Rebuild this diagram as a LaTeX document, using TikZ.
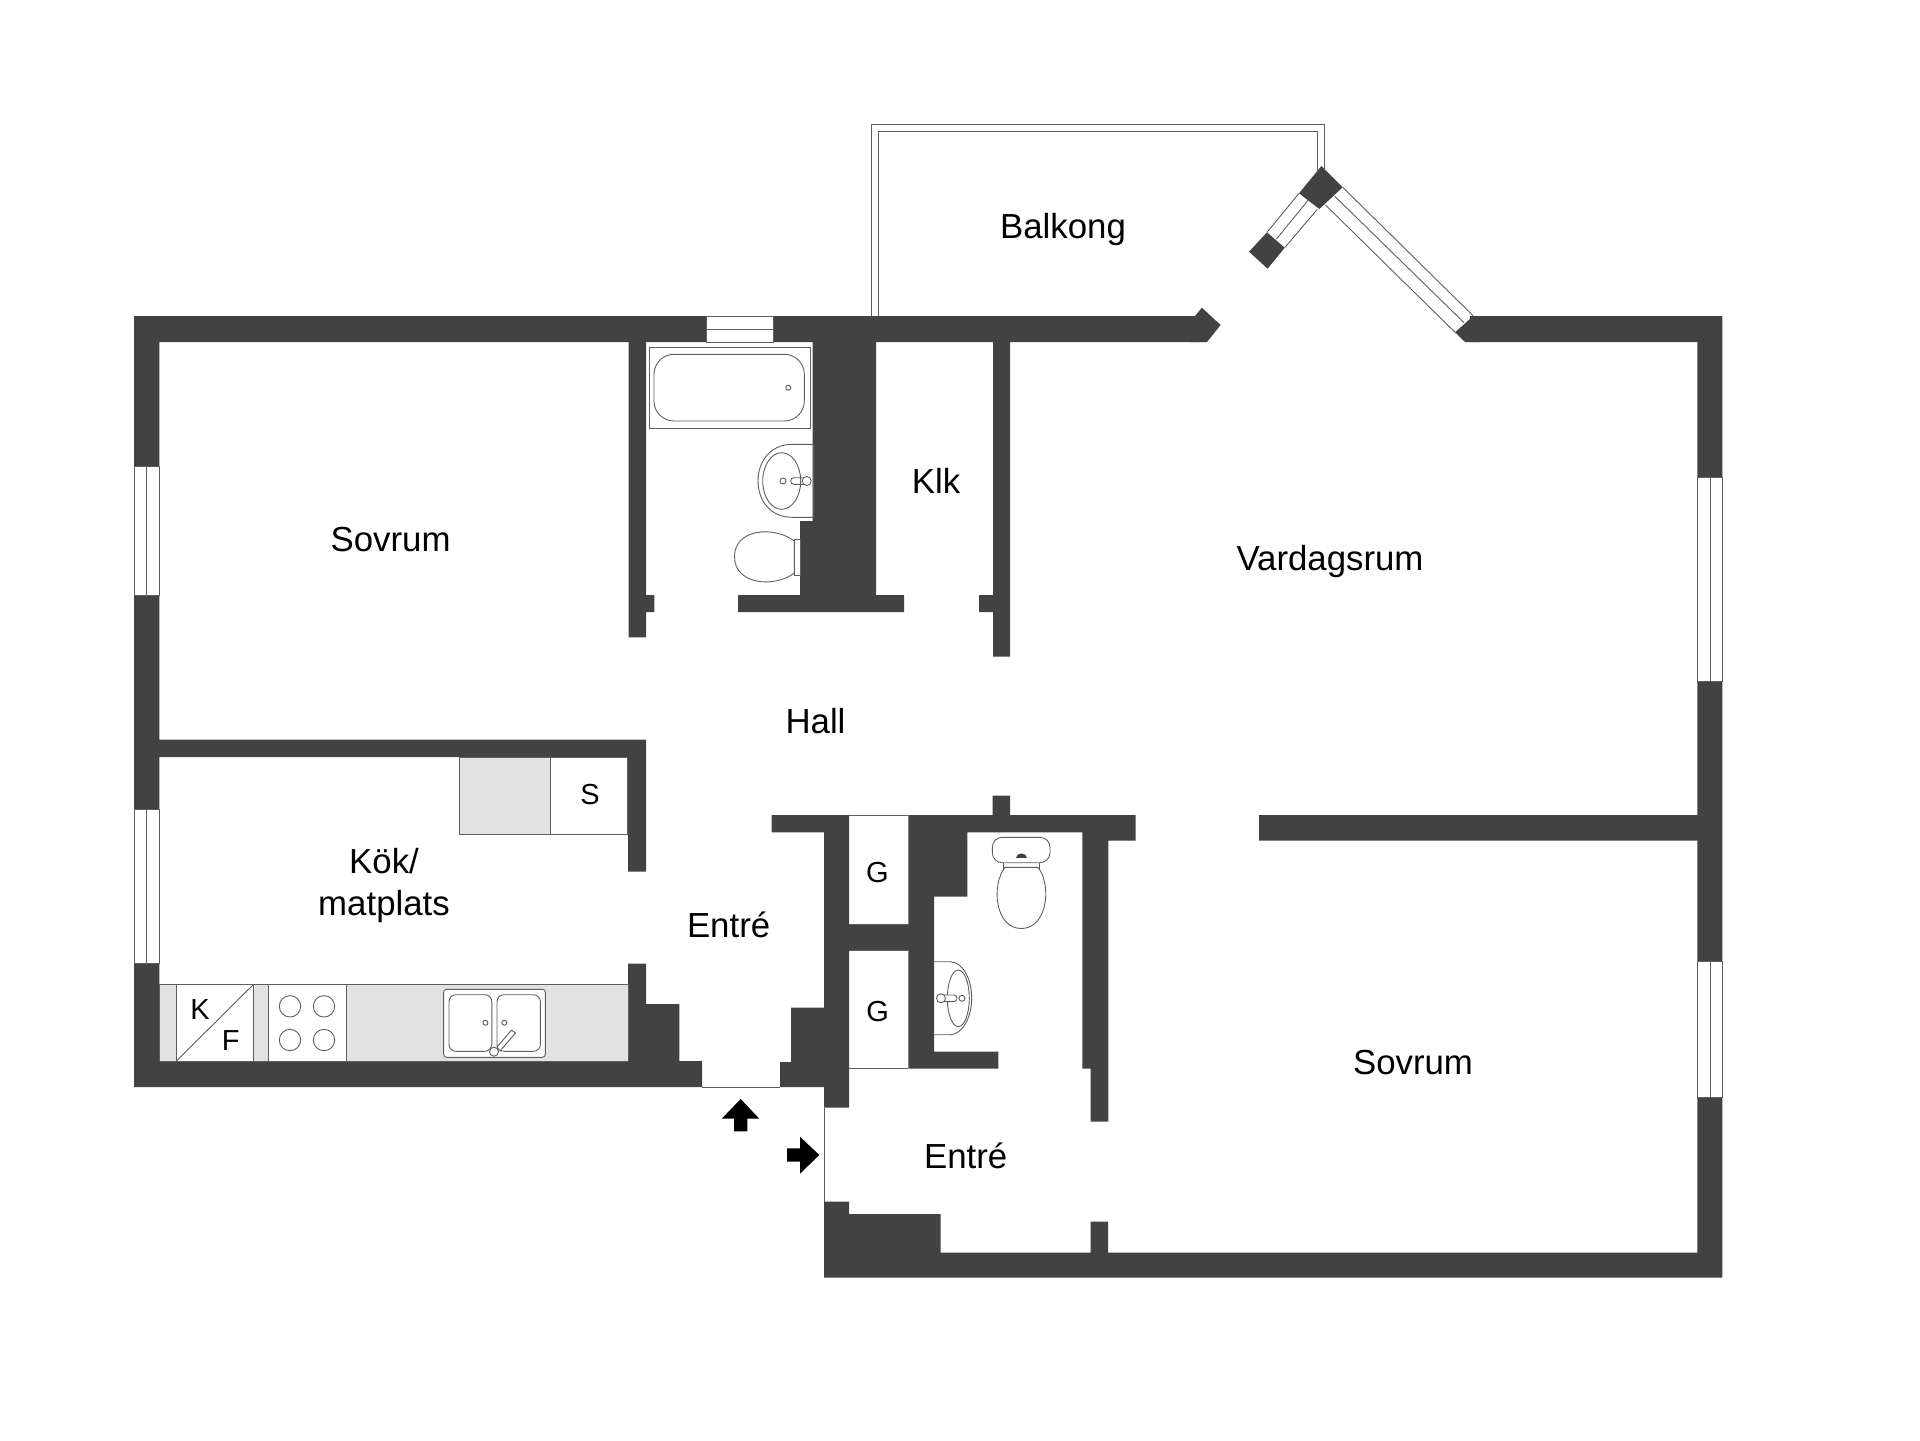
\documentclass[tikz,border=0pt]{standalone}
\usepackage{fontspec}
\setmainfont{Liberation Sans}
\usepackage{tikz}
\definecolor{gmur}{HTML}{424242}
\definecolor{gplan}{HTML}{E2E2E2}
\definecolor{gtrait}{HTML}{5E5E5E}

\begin{document}
\begin{tikzpicture}[x=0.5pt,y=-0.5pt]
\tikzstyle{mur}=[fill=gmur]
\tikzstyle{trait}=[draw=gtrait,line width=0.45pt]
\tikzstyle{plan}=[fill=gplan,draw=gtrait,line width=0.45pt]
\tikzstyle{blanc}=[fill=white,draw=gtrait,line width=0.45pt]
\tikzstyle{fleche}=[fill=black]
\tikzstyle{piece}=[inner sep=0pt,align=center,font=\fontsize{17.4}{21}\selectfont]
\tikzstyle{lettre}=[inner sep=0pt,font=\fontsize{14.5}{16}\selectfont]
\def\MurHaut{316}
\def\MurHautB{342}
\def\MurBas{1087}
\def\MurBasB{1061}
\def\SolHaut{1252.7}
\def\SolBas{1277.7}
\useasboundingbox (0,0) rectangle (1920,1440);
\fill[mur] (134,\MurHaut) rectangle (706.7,\MurHautB)
 (773.7,\MurHaut) rectangle (1200,\MurHautB)
 (1470,\MurHaut) rectangle (1722.3,\MurHautB)
 (134,\MurHaut) rectangle (159.3,466.7)
 (134,595) rectangle (159.3,809.3)
 (134,963.3) rectangle (159.3,\MurBas)
 (134,\MurBasB) rectangle (702,\MurBas)
 (1697.3,\MurHaut) rectangle (1722.3,477.7)
 (1697.3,681) rectangle (1722.3,961.7)
 (1697.3,1097.7) rectangle (1722.3,\SolBas)
 (628.7,\MurHautB) rectangle (646,637.3)
 (646,595) rectangle (654.3,612)
 (812.7,\MurHautB) rectangle (876,595)
 (800,521) rectangle (812.7,595)
 (738,595) rectangle (904,612)
 (979,595) rectangle (993,612)
 (993,\MurHautB) rectangle (1010,656.7)
 (159.3,739.7) rectangle (646,757)
 (628,757) rectangle (646,871.7)
 (628,963.7) rectangle (646,\MurBasB)
 (646,1004) rectangle (679.3,\MurBasB)
 (771.7,815) rectangle (849,832.3)
 (908.3,815) rectangle (1135.7,832.3)
 (1108.3,832.3) rectangle (1135.7,840.7)
 (992.7,795.7) rectangle (1010,815)
 (824,832.3) rectangle (849,1107.7)
 (791,1007.5) rectangle (824,1062)
 (780,1062) rectangle (824,\MurBas)
 (849,924.3) rectangle (908.3,950.3)
 (908.3,832.3) rectangle (934,1068.7)
 (934,832.3) rectangle (967.3,896.7)
 (934,1051.7) rectangle (998.3,1068.7)
 (1082.3,832.3) rectangle (1108.3,1068.7)
 (1090.7,1068.7) rectangle (1108.3,1121.7)
 (1259,815) rectangle (1697.3,840.7)
 (824,1201.7) rectangle (849,\SolBas)
 (849,1214) rectangle (940.7,\SolHaut)
 (849,\SolHaut) rectangle (1722.3,\SolBas)
 (1090.7,1221.7) rectangle (1108,\SolHaut);
\fill[mur] (1195,\MurHaut) -- (1201.8,307.7) -- (1220.6,325) -- (1207,\MurHautB) -- (1190,\MurHautB) -- (1190,\MurHaut) -- cycle;
\fill[mur] (1473.3,\MurHaut) -- (1480,\MurHaut) -- (1480,\MurHautB) -- (1465,\MurHautB) -- (1455,332.3) -- cycle;
\fill[mur] (1321.4,166) -- (1342.7,187.3) -- (1319.4,209) -- (1299,193.3) -- cycle;
\fill[mur] (1267,232.3) -- (1284.7,247.7) -- (1267.6,268.7) -- (1249,251.7) -- cycle;
\draw[trait] (871,\MurHaut) -- (871,124.5) -- (1324,124.5) -- (1324,170);
\draw[trait] (878,\MurHaut) -- (878,131.5) -- (1317.8,131.5) -- (1317.8,172);
\draw[trait] (1299,193.3) -- (1267,232.3);
\draw[trait] (1317.3,209.3) -- (1284.7,247.7);
\draw[trait] (1308,200.3) -- (1276.5,239);
\draw[trait] (1342.7,187.3) -- (1473.3,\MurHaut);
\draw[trait] (1325.5,205) -- (1455,332.3);
\draw[trait] (1334.5,196) -- (1464,322.7);
\draw[trait] (706.7,\MurHaut) rectangle (773.7,\MurHautB);
\draw[trait] (706.7,329.3) -- (773.7,329.3);
\draw[trait] (134,466.7) rectangle (159.3,595);
\draw[trait] (146.7,466.7) -- (146.7,595);
\draw[trait] (134,809.3) rectangle (159.3,963.3);
\draw[trait] (146.7,809.3) -- (146.7,963.3);
\draw[trait] (1697.3,477.7) rectangle (1722.3,681);
\draw[trait] (1710.3,477.7) -- (1710.3,681);
\draw[trait] (1697.3,961.7) rectangle (1722.3,1097.7);
\draw[trait] (1710.3,961.7) -- (1710.3,1097.7);
\draw[trait] (702,\MurBas) -- (780,\MurBas);
\draw[trait] (824,1107.7) -- (824,1201.7);
\draw[trait] (849,815) -- (908.3,815);
\draw[trait] (849,924.3) -- (908.3,924.3);
\draw[trait] (849,950.3) -- (908.3,950.3);
\draw[trait] (849,1068.7) -- (908.3,1068.7);
\draw[trait] (649.3,347.3) rectangle (810,428);
\draw[trait,rounded corners=10pt] (654,354.3) rectangle (804.3,421);
\draw[trait] (788.3,387.7) circle (2.5);
\draw[trait] (813.3,444.3) -- (792,444.3) .. controls (770,444.3) and (758,462) .. (758,481) .. controls (758,500) and (770,517.3) .. (792,517.3) -- (813.3,517.3) -- cycle;
\draw[trait] (781.7,481) ellipse [x radius=19,y radius=28.3];
\draw[trait] (783,481) circle (3);
\draw[trait,rounded corners=1.5pt] (790.7,477.7) rectangle (806,484.3);
\draw[blanc] (806.7,481) circle (4.5);
\draw[trait] (794.3,539) rectangle (800,575);
\draw[blanc] (794.3,541) .. controls (775,526) and (734.5,528) .. (734.5,556.7) .. controls (734.5,585) and (775,588) .. (794.3,573) -- cycle;
\draw[blanc,rounded corners=5pt] (992.3,837.3) rectangle (1050,862.7);
\draw[trait] (1003.3,862.7) -- (1003.3,870);
\draw[trait] (1039.3,862.7) -- (1039.3,870);
\draw[blanc] (1005,867.3) .. controls (991,885) and (995,928.5) .. (1021.3,928.5) .. controls (1047.5,928.5) and (1052,885) .. (1038,867.3) -- cycle;
\fill[gmur] (1016,857.5) -- (1026.5,857.5) .. controls (1026.5,851.5) and (1016,851.5) .. (1016,857.5) -- cycle;
\draw[trait] (934,961.7) -- (950,961.7) .. controls (962,961.7) and (971.7,978) .. (971.7,998) .. controls (971.7,1018) and (962,1034.7) .. (950,1034.7) -- (934,1034.7);
\draw[trait] (958.3,998.3) ellipse [x radius=11,y radius=28.3];
\draw[blanc,rounded corners=1.5pt] (941,995) rectangle (957,1001.6);
\draw[blanc] (941,998.3) circle (4.5);
\draw[blanc] (962,998.3) circle (3);
\draw[plan] (459.6,757) rectangle (550.4,834);
\draw[trait] (550.4,757) rectangle (627.9,834);
\draw[plan] (159.3,984.3) rectangle (628,\MurBasB);
\draw[blanc] (176.4,984.3) rectangle (253.6,\MurBasB);
\draw[trait] (176.4,\MurBasB) -- (253.6,984.3);
\draw[blanc] (268.6,984.3) rectangle (346,\MurBasB);
\draw[trait] (290,1006.3) circle (10.7);
\draw[trait] (324,1006.3) circle (10.7);
\draw[trait] (290,1040) circle (10.7);
\draw[trait] (324,1040) circle (10.7);
\draw[blanc,rounded corners=1.5pt] (443.6,989.3) rectangle (545.4,1057.3);
\draw[trait,rounded corners=3.5pt] (449,994.7) rectangle (491.8,1051.3);
\draw[trait,rounded corners=3.5pt] (497,994.7) rectangle (540.4,1051.3);
\draw[trait] (485.4,1022.7) circle (2.5);
\draw[trait] (504.3,1022.7) circle (2.5);
\draw[blanc,line join=round] (497,1047) -- (511.5,1030) -- (515.5,1033) -- (500,1051) -- cycle;
\draw[blanc] (494,1051.7) circle (4.5);
\fill[fleche] (740.7,1099) -- (759.3,1118.7) -- (747.3,1118.7) -- (747.3,1131.3) -- (734,1131.3) -- (734,1118.7) -- (721.7,1118.7) -- cycle;
\fill[fleche] (819.3,1155) -- (800,1173.7) -- (800,1161.7) -- (787,1161.7) -- (787,1148.3) -- (800,1148.3) -- (800,1136.7) -- cycle;
\node[piece] (Balkong) at (1063,229) {Balkong};
\node[piece] (Sovrum) at (390.6,540) {Sovrum};
\node[piece] (Klk) at (936,481) {Klk};
\node[piece] (Vardagsrum) at (1330,561) {Vardagsrum};
\node[piece] (Hall) at (815.5,721) {Hall};
\node[piece] (Kok) at (384,885) {Kök/\\matplats};
\node[piece] (EntreA) at (728.6,925) {Entré};
\node[piece] (EntreB) at (965.7,1156) {Entré};
\node[piece] (SovrumB) at (1413,1063) {Sovrum};
\node[lettre] (GA) at (877.5,873) {G};
\node[lettre] (GB) at (877.7,1012) {G};
\node[lettre] (S) at (590,795) {S};
\node[lettre] (K) at (200,1010) {K};
\node[lettre] (F) at (230.7,1041) {F};
\end{tikzpicture}
\end{document}
